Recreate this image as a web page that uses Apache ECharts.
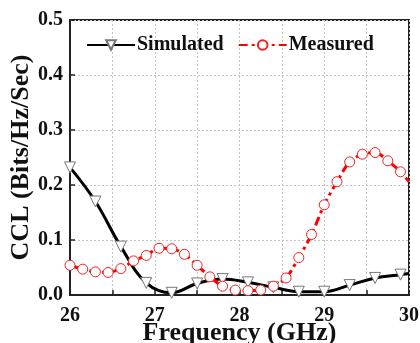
<!DOCTYPE html>
<html>
<head>
<meta charset="utf-8">
<script src="https://cdn.jsdelivr.net/npm/echarts@6/dist/echarts.min.js"></script>
<style>
html,body{margin:0;padding:0;background:#fff;}
#c{width:420px;height:343px;}
</style>
</head>
<body>
<div id="c"></div>
<script>
// Simulated series
const simFreq = [26.0, 26.3, 26.6, 26.9, 27.2, 27.5, 27.8, 28.1, 28.4, 28.7, 29.0, 29.3, 29.6, 29.9, 30.0];
const simCCL  = [0.232, 0.170, 0.088, 0.022, 0.004, 0.021, 0.029, 0.023, 0.014, 0.006, 0.006, 0.018, 0.031, 0.037, 0.039];
// Measured series
const measFreq = [26.0, 26.15, 26.3, 26.45, 26.6, 26.75, 26.9, 27.05, 27.2, 27.35, 27.5, 27.65, 27.8, 27.95, 28.1, 28.25, 28.4, 28.55, 28.7, 28.85, 29.0, 29.15, 29.3, 29.45, 29.6, 29.75, 29.9, 30.0];
const measCCL  = [0.054, 0.047, 0.042, 0.041, 0.048, 0.062, 0.072, 0.085, 0.084, 0.074, 0.054, 0.033, 0.016, 0.009, 0.008, 0.009, 0.016, 0.031, 0.068, 0.110, 0.164, 0.206, 0.242, 0.256, 0.259, 0.244, 0.224, 0.206];
const xTickLabels = ['26', '27', '28', '29', '30'];
const yTickLabels = ['0.0', '0.1', '0.2', '0.3', '0.4', '0.5'];
const seriesNames = ['Simulated', 'Measured'];

const FONT = 'Liberation Serif';
function pairs(xs, ys) {
  return xs.map((x, i) => {
    const d = { value: [x, ys[i]] };
    if (i === xs.length - 1 && x === 30) d.symbol = 'none';
    return d;
  });
}

const chart = echarts.init(document.getElementById('c'), null, { renderer: 'canvas' });
chart.setOption({
  animation: false,
  backgroundColor: '#fff',
  grid: { left: 70, right: 11, top: 20, bottom: 48, outerBoundsMode: 'none', containLabel: false, show: true, borderColor: '#222', borderWidth: 2, backgroundColor: 'transparent' },
  legend: {
    data: seriesNames,
    left: 81, top: 30,
    itemWidth: 48, itemHeight: 12, itemGap: 14,
    textStyle: { fontFamily: FONT, fontWeight: 'bold', fontSize: 20, color: '#111', padding: [0, 0, 0, -3] }
  },
  xAxis: {
    type: 'value', min: 26, max: 30, interval: 0.5,
    name: 'Frequency (GHz)', nameLocation: 'middle', nameGap: 25, nameMoveOverlap: false,
    nameTextStyle: { fontFamily: FONT, fontWeight: 'bold', fontSize: 26, color: '#111' },
    axisLine: { lineStyle: { color: '#222', width: 2 } },
    axisTick: { inside: true, length: 5, lineStyle: { color: '#222', width: 1.5 } },
    axisLabel: {
      margin: 11, fontFamily: FONT, fontWeight: 'bold', fontSize: 20, color: '#111',
      formatter: v => { const s = String(Math.round(v)); return (Math.abs(v - Math.round(v)) < 1e-6 && xTickLabels.includes(s)) ? s : ''; }
    },
    splitLine: { show: true, lineStyle: { color: '#c4c4c4', type: [2, 2], width: 1 } }
  },
  yAxis: {
    type: 'value', min: 0, max: 0.5, interval: 0.1,
    name: 'CCL (Bits/Hz/Sec)', nameLocation: 'middle', nameGap: 36, nameRotate: 90, nameMoveOverlap: false,
    nameTextStyle: { fontFamily: FONT, fontWeight: 'bold', fontSize: 26, color: '#111' },
    axisLine: { show: true, lineStyle: { color: '#222', width: 2 } },
    axisTick: { show: true, inside: true, length: 5, lineStyle: { color: '#222', width: 1.5 } },
    axisLabel: {
      margin: 7, fontFamily: FONT, fontWeight: 'bold', fontSize: 20, color: '#111',
      formatter: v => yTickLabels[Math.round(v * 10)]
    },
    splitLine: { show: true, lineStyle: { color: '#c4c4c4', type: [2, 2], width: 1 } }
  },
  series: [
    {
      name: seriesNames[0], type: 'line', data: pairs(simFreq, simCCL),
      smooth: 0.4, symbol: 'triangle', symbolRotate: 180, symbolSize: 11,
      lineStyle: { color: '#000', width: 3 },
      itemStyle: { color: '#fff', borderColor: '#777', borderWidth: 1 },
      z: 2
    },
    {
      name: seriesNames[1], type: 'line', data: pairs(measFreq, measCCL),
      smooth: 0.3, symbol: 'circle', symbolSize: 10,
      lineStyle: { color: '#f00', width: 3, type: [9, 4, 3, 4] },
      itemStyle: { color: '#fff', borderColor: '#e22', borderWidth: 1 },
      z: 3
    }
  ]
});
</script>
</body>
</html>
